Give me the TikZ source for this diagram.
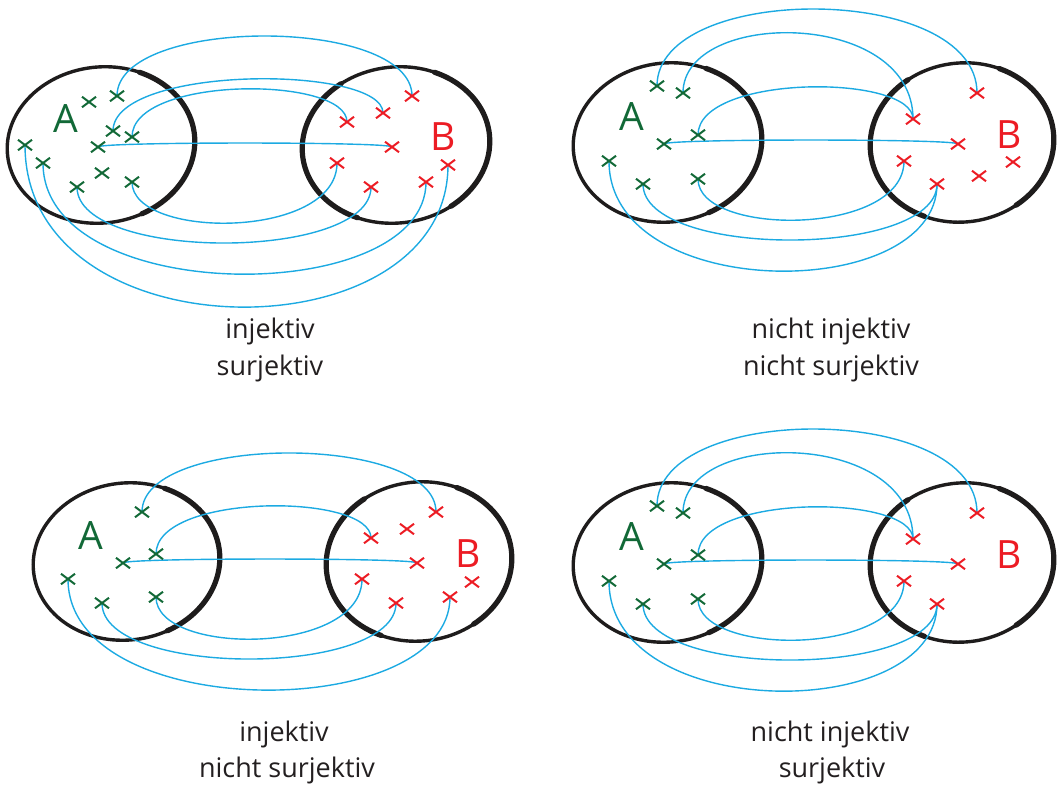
\documentclass[tikz,border=0pt]{standalone}
\usepackage{fontspec}
\newfontfamily\capfont{Open Sans}
\usetikzlibrary{shapes.misc}
\definecolor{cgreen}{RGB}{18,105,55}
\definecolor{cred}{RGB}{236,28,36}
\definecolor{cblue}{RGB}{28,170,226}
\definecolor{ctext}{RGB}{35,31,32}
\definecolor{cset}{RGB}{30,28,28}
\pgfdeclarelayer{ell}
\pgfdeclarelayer{con}
\pgfsetlayers{ell,con,main}
\tikzset{
  greenx/.style={cross out, draw=cgreen, line width=2pt, minimum width=12pt, minimum height=8.5pt, inner sep=0pt},
  redx/.style={cross out, draw=cred, line width=2pt, minimum width=12pt, minimum height=8.5pt, inner sep=0pt},
  conn/.style={draw=cblue, line width=1.4pt},
  setline/.style={draw=cset, line width=3.4pt},
  setthick/.style={draw=cset, line width=5.2pt, line cap=round},
  captxt/.style={font=\capfont\fontsize{27}{30}\selectfont, text=ctext, anchor=base, inner sep=0pt},
  setnameA/.style={font=\capfont\fontsize{39}{44}\selectfont, text=cgreen, anchor=base, inner sep=0pt},
  setnameB/.style={font=\capfont\fontsize{39}{44}\selectfont, text=cred, anchor=base, inner sep=0pt},
}
% #1 cx, #2 cy, #3 rx, #4 ry, #5 start angle thick arc, #6 end angle thick arc
\newcommand\myellipse[6]{%
  \begin{scope}[rotate around={7:(#1,#2)}]
    \draw[setline] (#1,#2) ellipse [x radius=#3pt, y radius=#4pt];
    \draw[setthick] (#1,#2) ++(#5:#3pt and #4pt) arc[start angle=#5, end angle=#6, x radius=#3pt, y radius=#4pt];
  \end{scope}}
% #1 from node, #2 to node, #3 control y
\newcommand\link[3]{\draw[conn] (#1.center) .. controls (#1.center |- 0,#3) and (#2.center |- 0,#3) .. (#2.center);}
\begin{document}
\begin{tikzpicture}[x=1pt,y=-1pt]
\useasboundingbox (0,0) rectangle (1060,792);

% ================= Panel 1 =================
\begin{pgfonlayer}{ell}
  \myellipse{101}{145}{94}{78}{-70}{60}
  \myellipse{396}{145}{94}{78}{120}{240}
  \begin{scope}[rotate around={7:(396,145)}]
    \draw[setthick] (396,145) ++(-60:94pt and 78pt) arc[start angle=-60, end angle=60, x radius=94pt, y radius=78pt];
  \end{scope}
\end{pgfonlayer}
\node[setnameA] (p1A) at (66,132) {A};
\node[setnameB] (p1B) at (443,150) {B};
\node[greenx] (p1g1) at (89,102) {};
\node[greenx] (p1g2) at (117,96) {};
\node[greenx] (p1g3) at (113,131) {};
\node[greenx] (p1g4) at (132,137) {};
\node[greenx] (p1g5) at (98,147) {};
\node[greenx] (p1g6) at (25,145) {};
\node[greenx] (p1g7) at (43,163) {};
\node[greenx] (p1g8) at (102,173) {};
\node[greenx] (p1g9) at (77,187) {};
\node[greenx] (p1g10) at (132,182) {};
\node[redx] (p1r1) at (412,96) {};
\node[redx] (p1r2) at (383,113) {};
\node[redx] (p1r3) at (347,122) {};
\node[redx] (p1r4) at (392,147) {};
\node[redx] (p1r5) at (337,163) {};
\node[redx] (p1r6) at (371,187) {};
\node[redx] (p1r7) at (426,182) {};
\node[redx] (p1r8) at (448,165) {};
\begin{pgfonlayer}{con}
  \link{p1g2}{p1r1}{16}
  \link{p1g3}{p1r2}{64.7}
  \link{p1g4}{p1r3}{75.5}
  \link{p1g5}{p1r4}{141.7}
  \link{p1g10}{p1r5}{239.8}
  \link{p1g9}{p1r6}{261.7}
  \link{p1g7}{p1r7}{307.9}
  \link{p1g6}{p1r8}{357.7}
\end{pgfonlayer}
\node[captxt] (c1a) at (270,338) {injektiv};
\node[captxt] (c1b) at (270,375) {surjektiv};

% ================= Panel 2 =================
\begin{pgfonlayer}{ell}
  \myellipse{667.5}{142.5}{94.5}{79.5}{-70}{60}
  \myellipse{962}{142.5}{92}{79.5}{120}{240}
  \begin{scope}[rotate around={7:(962,142.5)}]
    \draw[setthick] (962,142.5) ++(-60:92pt and 79.5pt) arc[start angle=-60, end angle=60, x radius=92pt, y radius=79.5pt];
  \end{scope}
\end{pgfonlayer}
\node[setnameA] (p2A) at (632,130) {A};
\node[setnameB] (p2B) at (1009,148) {B};
\node[greenx] (p2g1) at (657,86) {};
\node[greenx] (p2g2) at (683,93) {};
\node[greenx] (p2g3) at (698,135) {};
\node[greenx] (p2g4) at (664,144) {};
\node[greenx] (p2g5) at (609,161) {};
\node[greenx] (p2g6) at (643,184) {};
\node[greenx] (p2g7) at (698,179) {};
\node[redx] (p2r1) at (977,93) {};
\node[redx] (p2r2) at (913,119) {};
\node[redx] (p2r3) at (958,144) {};
\node[redx] (p2r4) at (904,161) {};
\node[redx] (p2r5) at (1013,162) {};
\node[redx] (p2r6) at (979,176) {};
\node[redx] (p2r7) at (937,184) {};
\begin{pgfonlayer}{con}
  \link{p2g1}{p2r1}{-17.8}
  \link{p2g2}{p2r2}{8.7}
  \link{p2g3}{p2r2}{73.7}
  \link{p2g4}{p2r3}{138.7}
  \link{p2g7}{p2r4}{236.7}
  \link{p2g6}{p2r7}{258.7}
  \link{p2g5}{p2r7}{303.8}
\end{pgfonlayer}
\node[captxt] (c2a) at (831,338) {nicht injektiv};
\node[captxt] (c2b) at (831,375) {nicht surjektiv};

% ================= Panel 3 =================
\begin{pgfonlayer}{ell}
  \myellipse{126.5}{561.5}{93.5}{78.5}{-70}{60}
  \myellipse{419}{561.5}{93}{79.5}{120}{240}
  \begin{scope}[rotate around={7:(419,561.5)}]
    \draw[setthick] (419,561.5) ++(-60:93pt and 79.5pt) arc[start angle=-60, end angle=60, x radius=93pt, y radius=79.5pt];
  \end{scope}
\end{pgfonlayer}
\node[setnameA] (p3A) at (91,549) {A};
\node[setnameB] (p3B) at (468,567) {B};
\node[greenx] (p3g1) at (142,512) {};
\node[greenx] (p3g2) at (156,554) {};
\node[greenx] (p3g3) at (123,563) {};
\node[greenx] (p3g4) at (68,579) {};
\node[greenx] (p3g5) at (102,603) {};
\node[greenx] (p3g6) at (156,597) {};
\node[redx] (p3r1) at (436,512) {};
\node[redx] (p3r2) at (407,529) {};
\node[redx] (p3r3) at (371,538) {};
\node[redx] (p3r4) at (417,563) {};
\node[redx] (p3r5) at (362,579) {};
\node[redx] (p3r6) at (472,582) {};
\node[redx] (p3r7) at (396,603) {};
\node[redx] (p3r8) at (450,597) {};
\begin{pgfonlayer}{con}
  \link{p3g1}{p3r1}{433.3}
  \link{p3g2}{p3r3}{492.7}
  \link{p3g3}{p3r4}{557.7}
  \link{p3g6}{p3r5}{656}
  \link{p3g5}{p3r7}{677.7}
  \link{p3g4}{p3r8}{724}
\end{pgfonlayer}
\node[captxt] (c3a) at (284,741) {injektiv};
\node[captxt] (c3b) at (287,777) {nicht surjektiv};

% ================= Panel 4 =================
\begin{pgfonlayer}{ell}
  \myellipse{667.5}{562.5}{94.5}{79.5}{-70}{60}
  \myellipse{962}{562.5}{92}{79.5}{120}{240}
  \begin{scope}[rotate around={7:(962,562.5)}]
    \draw[setthick] (962,562.5) ++(-60:92pt and 79.5pt) arc[start angle=-60, end angle=60, x radius=92pt, y radius=79.5pt];
  \end{scope}
\end{pgfonlayer}
\node[setnameA] (p4A) at (632,550) {A};
\node[setnameB] (p4B) at (1009,568) {B};
\node[greenx] (p4g1) at (657,506) {};
\node[greenx] (p4g2) at (683,513) {};
\node[greenx] (p4g3) at (698,555) {};
\node[greenx] (p4g4) at (664,564) {};
\node[greenx] (p4g5) at (609,581) {};
\node[greenx] (p4g6) at (643,604) {};
\node[greenx] (p4g7) at (698,599) {};
\node[redx] (p4r1) at (977,513) {};
\node[redx] (p4r2) at (913,539) {};
\node[redx] (p4r3) at (958,564) {};
\node[redx] (p4r4) at (904,581) {};
\node[redx] (p4r7) at (937,604) {};
\begin{pgfonlayer}{con}
  \link{p4g1}{p4r1}{402.2}
  \link{p4g2}{p4r2}{428.7}
  \link{p4g3}{p4r2}{493.7}
  \link{p4g4}{p4r3}{558.7}
  \link{p4g7}{p4r4}{656.7}
  \link{p4g6}{p4r7}{678.7}
  \link{p4g5}{p4r7}{723.8}
\end{pgfonlayer}
\node[captxt] (c4a) at (830,741) {nicht injektiv};
\node[captxt] (c4b) at (832,777) {surjektiv};
\end{tikzpicture}
\end{document}
